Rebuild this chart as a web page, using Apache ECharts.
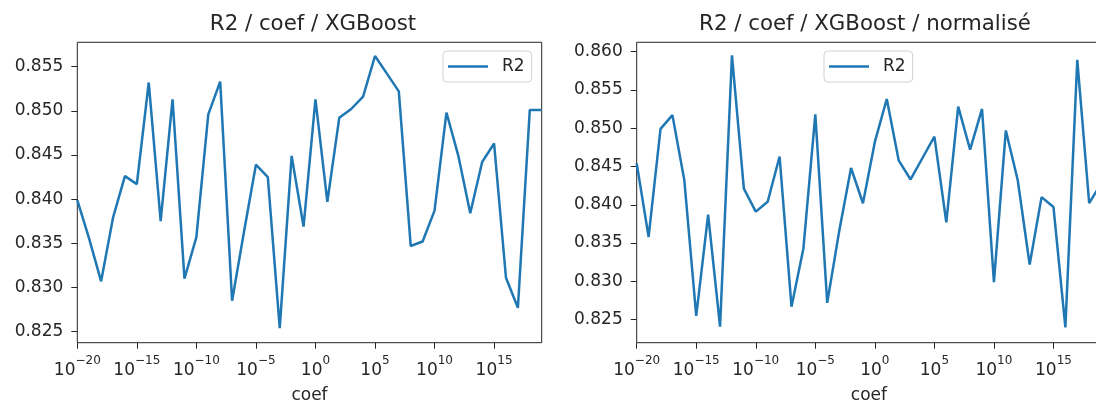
<!DOCTYPE html>
<html>
<head>
<meta charset="utf-8">
<script src="https://cdn.jsdelivr.net/npm/echarts@6/dist/echarts.min.js"></script>
<style>
  html, body { margin: 0; padding: 0; background: #fff; }
  #chart { width: 1096px; height: 403px; }
</style>
</head>
<body>
<div id="chart"></div>
<script>
// coefficient values (log-spaced, one per decade)
const coefs = [
  1e-20, 1e-19, 1e-18, 1e-17, 1e-16, 1e-15, 1e-14, 1e-13, 1e-12, 1e-11,
  1e-10, 1e-9, 1e-8, 1e-7, 1e-6, 1e-5, 1e-4, 1e-3, 1e-2, 1e-1,
  1e0, 1e1, 1e2, 1e3, 1e4, 1e5, 1e6, 1e7, 1e8, 1e9,
  1e10, 1e11, 1e12, 1e13, 1e14, 1e15, 1e16, 1e17, 1e18, 1e19
];

// R2 score for each coef, raw features
const r2Raw = [
  0.8399, 0.8355, 0.8307, 0.8379, 0.8426, 0.8417, 0.8532, 0.8375, 0.8513, 0.8310,
  0.8357, 0.8496, 0.8533, 0.8285, 0.8363, 0.8439, 0.8425, 0.8254, 0.8449, 0.8369,
  0.8513, 0.8397, 0.8492, 0.8502, 0.8516, 0.8562, 0.8542, 0.8522, 0.8347, 0.8352,
  0.8387, 0.8498, 0.8449, 0.8384, 0.8442, 0.8463, 0.8311, 0.8277, 0.8501, 0.8501
];

// R2 score for each coef, normalised features
const r2Norm = [
  0.8454, 0.8358, 0.8499, 0.8517, 0.8432, 0.8255, 0.8387, 0.8241, 0.8595, 0.8421,
  0.8391, 0.8404, 0.8463, 0.8267, 0.8343, 0.8518, 0.8272, 0.8365, 0.8448, 0.8402,
  0.8482, 0.8538, 0.8458, 0.8433, 0.8461, 0.8489, 0.8377, 0.8528, 0.8472, 0.8525,
  0.8299, 0.8497, 0.8432, 0.8322, 0.8410, 0.8397, 0.8240, 0.8589, 0.8402, 0.8428
];

const titles = ['R2 / coef / XGBoost', 'R2 / coef / XGBoost / normalisé'];
const seriesName = 'R2';
const xTicks = [1e-20, 1e-15, 1e-10, 1e-5, 1e0, 1e5, 1e10, 1e15];
const yTicksRaw = [0.825, 0.830, 0.835, 0.840, 0.845, 0.850, 0.855];
const yTicksNorm = [0.825, 0.830, 0.835, 0.840, 0.845, 0.850, 0.855, 0.860];

const FONT = 'DejaVu Sans';
const INK = '#262626';
const LINE = '#1f77b4';

const chart = echarts.init(document.getElementById('chart'), null, { renderer: 'canvas' });

function powLabel(v) {
  const e = Math.round(Math.log10(v));
  const exp = e < 0 ? '\u2212' + Math.abs(e) : String(e);
  return '{b|10}{s|' + exp + '}';
}

function xAxisCfg(gridIndex) {
  return {
    type: 'log', logBase: 10, gridIndex,
    min: 1e-20, max: 1e19,
    axisLine: { show: false },
    splitLine: { show: false },
    minorTick: { show: false },
    axisTick: { show: true, length: 6, customValues: xTicks, lineStyle: { color: INK, width: 1 } },
    axisLabel: {
      customValues: xTicks,
      margin: 12,
      formatter: powLabel,
      rich: {
        b: { fontFamily: FONT, fontSize: 17, color: INK, lineHeight: 24, verticalAlign: 'bottom' },
        s: { fontFamily: FONT, fontSize: 12, color: INK, lineHeight: 14, verticalAlign: 'top' }
      }
    },
    name: 'coef', nameLocation: 'middle', nameGap: 44,
    nameTextStyle: { fontFamily: FONT, fontSize: 17, color: INK }
  };
}

function yAxisCfg(gridIndex, min, max, ticks) {
  return {
    type: 'value', gridIndex, min, max, scale: true,
    axisLine: { show: false },
    splitLine: { show: false },
    axisTick: { show: true, length: 6, customValues: ticks, lineStyle: { color: INK, width: 1 } },
    axisLabel: {
      customValues: ticks, margin: 14,
      fontFamily: FONT, fontSize: 17, color: INK,
      formatter: v => v.toFixed(3)
    }
  };
}

function legendCfg(left) {
  return {
    left, top: 51, orient: 'vertical',
    data: [{ name: seriesName, icon: 'rect' }],
    itemWidth: 40, itemHeight: 2.5,
    itemStyle: { color: LINE, borderWidth: 0 },
    backgroundColor: 'rgba(255,255,255,0.8)',
    borderColor: 'rgba(204,204,204,0.9)', borderWidth: 1, borderRadius: 4,
    padding: [6, 7, 6, 5],
    textStyle: { fontFamily: FONT, fontSize: 17, color: INK, padding: [0, 0, 0, 9], lineHeight: 19 }
  };
}

function lineSeries(idx, values) {
  return {
    name: seriesName, type: 'line',
    xAxisIndex: idx, yAxisIndex: idx,
    data: coefs.map((c, i) => [c, values[i]]),
    symbol: 'none', showSymbol: false,
    lineStyle: { color: LINE, width: 2.5 },
    itemStyle: { color: LINE },
    animation: false, clip: true
  };
}

function gridCfg(left) {
  return {
    left, top: 42.3, width: 464.4, height: 300.4,
    outerBoundsMode: 'none', containLabel: false,
    show: true, borderColor: INK, borderWidth: 1, backgroundColor: 'transparent'
  };
}

function titleCfg(text, centerX) {
  return {
    text, left: centerX, top: 9, textAlign: 'center',
    textStyle: { fontFamily: FONT, fontSize: 21.3, fontWeight: 'normal', color: INK }
  };
}

chart.setOption({
  animation: false,
  backgroundColor: '#fff',
  title: [titleCfg(titles[0], 308), titleCfg(titles[1], 860)],
  legend: [legendCfg(443), legendCfg(824)],
  grid: [gridCfg(77.3), gridCfg(636.7)],
  xAxis: [xAxisCfg(0), xAxisCfg(1)],
  yAxis: [
    yAxisCfg(0, 0.82375, 0.85775, yTicksRaw),
    yAxisCfg(1, 0.8220, 0.8612, yTicksNorm)
  ],
  series: [lineSeries(0, r2Raw), lineSeries(1, r2Norm)]
});
</script>
</body>
</html>
